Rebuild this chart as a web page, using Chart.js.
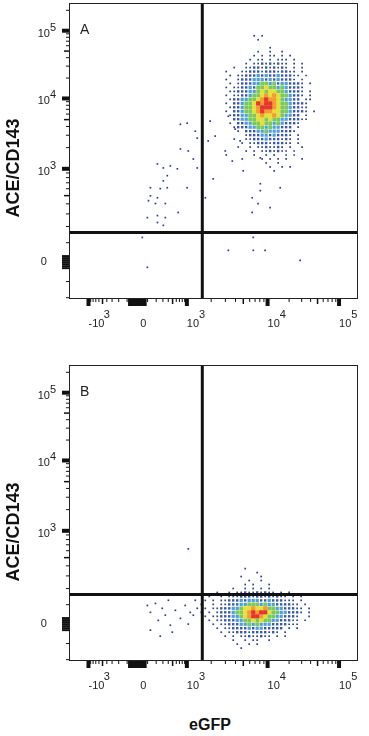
<!DOCTYPE html>
<html><head><meta charset="utf-8">
<script src="https://cdn.jsdelivr.net/npm/chart.js@4.4.1/dist/chart.umd.min.js"></script>
<style>
html,body{margin:0;padding:0;background:#fff;width:369px;height:736px;overflow:hidden;}
canvas{position:absolute;left:0;}
#cA{top:0}
#cB{top:362px}
#xt{position:absolute;left:210px;top:725px;transform:translate(-50%,-50%);font:bold 16px "Liberation Sans",Arial,sans-serif;color:#111;white-space:nowrap}
</style></head><body>
<canvas id="cA" width="369" height="336"></canvas>
<canvas id="cB" width="369" height="340"></canvas>
<div id="xt"></div>
<script>
// ---------------- data (display scale: channels 0..1024 on both axes) ----------------
const yTitle = 'ACE/CD143';
const xTitle = 'eGFP';
const panelNames = ['A', 'B'];

const xMajorValues = [-1000, 0, 1000, 10000, 100000];
const xMajorLabels = [['     3', '-10'], ['', ' 0'], ['    3', '10'], ['    4', '10'], ['    5', '10']];
const xMajorChannels = [66, 240, 417, 705, 960];

const yMajorValues = [0, 1000, 10000, 100000];
const yMajorLabels = ['0   ', ['3', '10  '], ['4', '10  '], ['5', '10  ']];
const yMajorChannels = [125, 450, 695, 931];

const gateA = [472, 228];
const gateB = [472, 228];

// density grids: [start cell, levels] per row, top row first
// level 1 = sparse events, 2 = blue, 3 = cyan, 4 = green, 5 = yellow, 6 = orange, 7 = red
const gridA = { x0: 500.4, y0: 913.3 };
const densityA = [
  [11, '1.1'],[12, '1'],[0, ''],[15, '1'],
  [4, '........1..1..1'],[4, '.......1.1.11.1.1'],[4, '......1.11.1.111.1'],[4, '.....1.112121211.1.1'],
  [4, '..1..11221212121.1.1'],[4, '1...11222122212211.1'],[4, '.1.1122232322322211.1'],[4, '1..122233323232221.1'],
  [4, '.1.12223344342332221.1'],[4, '1.112232445443432221'],[4, '.1122233454554432221.1'],[4, '1.112234456565443221.1'],
  [4, '.122334456766543322.11'],[4, '1.2234457677654432221'],[4, '.12234456777654432211'],[4, '1.2234456766554432221.1'],
  [4, '.122334456556543322.1'],[4, '..2233445545443322211'],[4, '.1.2233445443432221'],[4, '..122233443433222.1'],
  [4, '...1.2223343332221'],[4, '.....122233232221.1'],[4, '..1..112223222121.1'],[4, '....1.11222122211.1'],
  [4, '...1..1.1121121.1..1'],[4, '.....1.1.1121211.1'],[4, '1......1..1.1..1.1'],[4, '....1....1.1.1.1...1'],
  [4, '..........1..1'],[4, '...........1..1.1'],[4, '............1']
];
const gridB = { x0: 468.4, y0: 318.3 };
const densityB = [
  [0, '...........1'],[0, '..............1'],[0, '..........1....1'],[0, '............1..1'],
  [0, '...........1.1...1'],[0, '........1..1.1.1.1'],[0, '....1..1.1121121211.1.1'],[0, '..1..1.111222122121211.1.1'],
  [0, '.1.1.1122232333223222111.1'],[0, '1..1.11222334443433222211.1'],[0, '.1.11222334556556443322211.1'],
  [0, '1.1.1222344567677544332221.1'],[0, '.1.1122233456776544332221..1'],[0, '..1.112223344545443322211.1'],
  [0, '...1.11222334343332222111'],[0, '....1.112222323322222.1.1'],[0, '.....1.1122212222121.1'],
  [0, '......1.1.11211211.1.1'],[0, '........1..1.11..1'],[0, '.........1..1.1'],[0, '..........1']
];
const cellStep = { dx: 14.25, dy: 13.84 };

// isolated events [x channel, y channel]
const eventsA = [[394,605],[418,609],[454,557],[394,519],[422,512],[440,484],[454,453],[312,467],[333,453],[358,460],
  [383,450],[347,426],[333,408],[287,384],[322,381],[347,384],[287,356],[312,349],[280,339],[305,329],[340,329],
  [276,280],[312,287],[312,263],[340,280],[333,253],[386,298],[418,384],[258,211],[276,107],[565,166],[654,166],
  [696,166],[654,211],[821,131],[679,488],[679,398],[679,374],[650,349],[714,315],[671,329],[650,298],[750,384],
  [618,443],[511,415],[483,349],[500,616],[518,564],[493,547],[565,633],[589,588],[607,547],[554,512],[579,477],[447,581]];
const eventsB = [[276,190],[287,166],[305,197],[315,138],[329,180],[340,156],[351,208],[358,121],[376,173],[394,145],
  [365,97],[411,190],[429,166],[447,208],[454,180],[287,104],[322,83],[422,125],[440,156],[422,387]];

// ---------------- helpers ----------------
const FONT = '"Liberation Sans", Arial, sans-serif';
const LEVEL_STYLE = {
  1: { color: '#2b3f93', side: 1.7 }, 2: { color: '#3857ad', side: 2.4 }, 3: { color: '#4d9fd6', side: 3.2 },
  4: { color: '#7cc95a', side: 3.8 }, 5: { color: '#e4e03a', side: 4.2 }, 6: { color: '#f59a2c', side: 4.2 },
  7: { color: '#e3352b', side: 4.2 }
};
const TICK_STYLE = { M: { len: 8, w: 4 }, C: { len: 8, w: 2 }, H: { len: 6, w: 1.5 }, m: { len: 4, w: 1 } };

function axisChannel(v, vals, chans, w) {
  const p0 = chans[vals.indexOf(0)];
  const pP = chans[vals.indexOf(1000)];
  const iN = vals.indexOf(-1000);
  const pN = iN >= 0 ? chans[iN] : p0 - (pP - p0);
  if (Math.abs(v) < 1000) {
    const f = Math.asinh(v / w) / Math.asinh(1000 / w);
    return v >= 0 ? p0 + f * (pP - p0) : p0 + f * (p0 - pN);
  }
  if (v < 0) return pN;
  const d = Math.log10(v), k = Math.floor(d + 1e-9);
  let a = vals.indexOf(Math.pow(10, k)), b = vals.indexOf(Math.pow(10, k + 1));
  if (b < 0) { b = a; a = a - 1; }
  const la = Math.log10(vals[a]), lb = Math.log10(vals[b]);
  return chans[a] + (d - la) * (chans[b] - chans[a]) / (lb - la);
}
function buildTicks(vals, chans, labels, clusterMax, w) {
  const list = [];
  vals.forEach((v, i) => { if (v !== 0) list.push({ value: chans[i], kind: 'M', lab: labels[i] }); });
  for (let v = -clusterMax; v <= clusterMax; v += 10) {
    list.push({ value: axisChannel(v, vals, chans, w), kind: 'C', lab: v === 0 ? labels[vals.indexOf(0)] : '' });
  }
  for (let m = 100; m < 1000; m += 100) {
    for (const s of [1, -1]) list.push({ value: axisChannel(s * m, vals, chans, w), kind: m === 500 ? 'H' : 'm', lab: '' });
  }
  for (const dec of [1000, 10000, 100000]) {
    for (let m = 2; m <= 9; m++) list.push({ value: axisChannel(m * dec, vals, chans, w), kind: m === 5 ? 'H' : 'm', lab: '' });
  }
  return list.filter(t => t.value >= 0 && t.value <= 1024).sort((a, b) => a.value - b.value);
}
const xTicks = buildTicks(xMajorValues, xMajorChannels, xMajorLabels, 80, 200);
const yTicks = buildTicks(yMajorValues, yMajorChannels, yMajorLabels, 30, 200);

function gridPoints(rows, grid, level) {
  const pts = [];
  rows.forEach(([start, s], r) => {
    for (let i = 0; i < s.length; i++) {
      if (s[i] === String(level)) pts.push({ x: grid.x0 + (start + i) * cellStep.dx, y: grid.y0 - r * cellStep.dy });
    }
  });
  return pts;
}
function panelDatasets(density, grid, events, gate) {
  const ds = [];
  for (let lv = 1; lv <= 7; lv++) {
    const st = LEVEL_STYLE[lv];
    ds.push({ type: 'scatter', data: gridPoints(density, grid, lv), backgroundColor: st.color,
      pointStyle: 'rect', pointRadius: st.side / Math.SQRT2, borderWidth: 0, pointBorderWidth: 0,
      pointHoverRadius: 0, order: 20 - lv });
  }
  ds.push({ type: 'scatter', data: events.map(([x, y]) => ({ x, y })), backgroundColor: LEVEL_STYLE[1].color,
    pointStyle: 'rect', pointRadius: LEVEL_STYLE[1].side / Math.SQRT2, borderWidth: 0, pointBorderWidth: 0, order: 19 });
  ds.push({ type: 'line', data: [{ x: gate[0], y: 0 }, { x: gate[0], y: 1024 }], borderColor: '#111',
    borderWidth: 3, pointRadius: 0, fill: false, order: 0 });
  ds.push({ type: 'line', data: [{ x: 0, y: gate[1] }, { x: 1024, y: gate[1] }], borderColor: '#111',
    borderWidth: 3, pointRadius: 0, fill: false, order: 0 });
  return ds;
}

// frame, axis tick marks (positions from the chart's own scales) and panel letter
const framePlugin = {
  id: 'frameLabel',
  beforeDatasetsDraw(chart) {
    const { ctx, chartArea: a, scales } = chart;
    ctx.save();
    ctx.setLineDash([]);
    ctx.strokeStyle = '#111';
    xTicks.forEach(t => {
      const st = TICK_STYLE[t.kind];
      const px = scales.x.getPixelForValue(t.value);
      ctx.lineWidth = st.w;
      ctx.beginPath(); ctx.moveTo(px, a.bottom); ctx.lineTo(px, a.bottom + st.len); ctx.stroke();
    });
    yTicks.forEach(t => {
      const st = TICK_STYLE[t.kind];
      const py = scales.y.getPixelForValue(t.value);
      ctx.lineWidth = st.w;
      ctx.beginPath(); ctx.moveTo(a.left, py); ctx.lineTo(a.left - st.len, py); ctx.stroke();
    });
    ctx.restore();
  },
  afterDraw(chart, args, opts) {
    const { ctx, chartArea: a } = chart;
    ctx.save();
    ctx.setLineDash([]);
    ctx.strokeStyle = '#222';
    ctx.lineWidth = 1;
    ctx.strokeRect(a.left - 0.5, a.top - 0.5, a.right - a.left + 1, a.bottom - a.top + 1);
    ctx.fillStyle = '#222';
    ctx.font = '14px ' + FONT;
    ctx.textBaseline = 'alphabetic';
    ctx.textAlign = 'left';
    ctx.fillText(opts.text, a.left + 10, a.top + 30);
    ctx.restore();
  }
};
function makeChart(id, name, density, grid, events, gate, xAxisH) {
  const canvas = document.getElementById(id);
  // software-backed 2D context so every drawn mark is in the photographed frame
  canvas.getContext('2d', { willReadFrequently: true });
  return new Chart(canvas, {
    type: 'scatter',
    data: { datasets: panelDatasets(density, grid, events, gate) },
    plugins: [framePlugin],
    options: {
      responsive: false, animation: false, devicePixelRatio: 1, events: [],
      layout: { padding: { top: 0, right: 12, left: 0, bottom: 0 } },
      plugins: {
        legend: { display: false }, tooltip: { enabled: false },
        title: { display: true, position: 'left', text: yTitle, color: '#111',
          font: { family: FONT, size: 18, weight: 'bold', lineHeight: '20px' }, padding: { top: 4, bottom: 0 } },
        frameLabel: { text: name }
      },
      scales: {
        x: {
          type: 'linear', position: 'bottom', min: 0, max: 1024,
          afterBuildTicks: s => { s.ticks = xTicks.map(t => Object.assign({}, t)); },
          afterFit: s => { s.height = xAxisH; s.paddingLeft = 0; s.paddingRight = 0; },
          border: { display: false },
          grid: { display: true, drawOnChartArea: false, drawTicks: true, tickLength: 8, tickColor: 'rgba(0,0,0,0)' },
          ticks: { autoSkip: false, maxRotation: 0, minRotation: 0, align: 'start', padding: 4, color: '#222',
            font: { family: FONT, size: 11, lineHeight: '9px' },
            callback: (v, i, ticks) => ticks[i].lab }
        },
        y: {
          type: 'linear', position: 'left', min: 0, max: 1024,
          afterBuildTicks: s => { s.ticks = yTicks.map(t => Object.assign({}, t)); },
          afterFit: s => { s.width = 46; s.paddingTop = 0; s.paddingBottom = 0; },
          border: { display: false },
          grid: { display: true, drawOnChartArea: false, drawTicks: true, tickLength: 8, tickColor: 'rgba(0,0,0,0)' },
          ticks: { autoSkip: false, padding: 6, color: '#222',
            font: { family: FONT, size: 11, lineHeight: '6px' },
            callback: (v, i, ticks) => ticks[i].lab }
        }
      }
    }
  });
}
makeChart('cA', panelNames[0], densityA, gridA, eventsA, gateA, 38);
makeChart('cB', panelNames[1], densityB, gridB, eventsB, gateB, 42);
document.getElementById('xt').textContent = xTitle;
</script></body></html>
